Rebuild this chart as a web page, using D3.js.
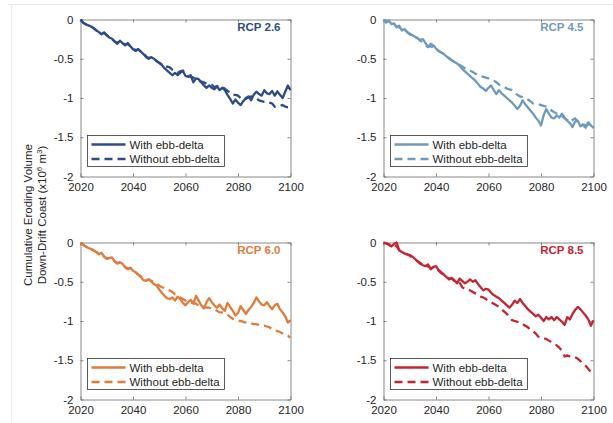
<!DOCTYPE html>
<html>
<head>
<meta charset="utf-8">
<script src="https://cdn.jsdelivr.net/npm/d3@7"></script>
<style>
  body { margin: 0; background: #fff; }
  svg { display: block; font-family: "Liberation Sans", Arial, sans-serif; }
</style>
</head>
<body>
<svg id="chart" width="613" height="423"></svg>
<script>
// years on the x axis (one value per year)
var years = d3.range(2020, 2101);

// cumulative eroding volume (x10^6 m^3)
var rcp26With = [0, -0.04, -0.06, -0.075, -0.09, -0.11, -0.135, -0.16, -0.19, -0.165,
    -0.2, -0.23, -0.245, -0.28, -0.31, -0.27, -0.3, -0.33, -0.3, -0.34,
    -0.38, -0.4, -0.38, -0.41, -0.44, -0.48, -0.5, -0.48, -0.5, -0.53,
    -0.555, -0.58, -0.62, -0.65, -0.68, -0.71, -0.68, -0.71, -0.68, -0.655,
    -0.72, -0.73, -0.71, -0.8, -0.75, -0.76, -0.8, -0.84, -0.87, -0.84,
    -0.87, -0.89, -0.85, -0.9, -0.87, -0.9, -0.96, -1.01, -1.07, -1.02,
    -1.06, -1.09, -1.04, -1.0, -0.98, -1.03, -0.96, -0.92, -0.95, -0.97,
    -0.9, -0.94, -0.95, -0.91, -0.97, -0.915, -0.96, -1.0, -0.92, -0.84,
    -0.9];
var rcp26Without = [0, -0.04, -0.06, -0.08, -0.09, -0.11, -0.14, -0.16, -0.18, -0.17,
    -0.2, -0.22, -0.25, -0.28, -0.3, -0.28, -0.3, -0.32, -0.31, -0.34,
    -0.37, -0.39, -0.38, -0.41, -0.43, -0.47, -0.49, -0.48, -0.5, -0.53,
    -0.55, -0.57, -0.6, -0.6, -0.61, -0.64, -0.66, -0.68, -0.66, -0.65,
    -0.69, -0.72, -0.73, -0.74, -0.76, -0.78, -0.79, -0.8, -0.82, -0.82,
    -0.83, -0.86, -0.85, -0.85, -0.86, -0.88, -0.91, -0.93, -0.96, -0.96,
    -0.97, -1.0, -1.0, -1.01, -0.99, -0.98, -0.99, -1.0, -1.03, -1.04,
    -1.05, -1.05, -1.06, -1.07, -1.11, -1.1, -1.1, -1.09, -1.11, -1.12,
    -1.12];

var rcp45With = [0, -0.04, -0.01, -0.06, -0.05, -0.1, -0.08, -0.14, -0.12, -0.16,
    -0.19, -0.2, -0.22, -0.24, -0.26, -0.25, -0.3, -0.35, -0.31, -0.33,
    -0.37, -0.4, -0.42, -0.44, -0.47, -0.5, -0.52, -0.54, -0.56, -0.59,
    -0.63, -0.66, -0.69, -0.72, -0.75, -0.78, -0.82, -0.86, -0.88, -0.91,
    -0.87, -0.84, -0.9, -0.95, -0.9, -0.94, -0.97, -1.0, -1.03, -1.06,
    -1.1, -1.14, -1.1, -1.03, -1.08, -1.12, -1.16, -1.2, -1.25, -1.29,
    -1.35, -1.22, -1.14, -1.2, -1.25, -1.26, -1.22, -1.25, -1.2, -1.25,
    -1.29, -1.32, -1.37, -1.3, -1.29, -1.36, -1.34, -1.38, -1.31, -1.35,
    -1.38];
var rcp45Without = [0, -0.03, -0.02, -0.06, -0.06, -0.09, -0.1, -0.13, -0.13, -0.16,
    -0.18, -0.2, -0.22, -0.24, -0.27, -0.29, -0.33, -0.35, -0.34, -0.36,
    -0.38, -0.4, -0.42, -0.44, -0.47, -0.49, -0.52, -0.54, -0.56, -0.58,
    -0.6, -0.62, -0.63, -0.65, -0.67, -0.69, -0.71, -0.72, -0.73, -0.74,
    -0.75, -0.77, -0.78, -0.8, -0.83, -0.85, -0.86, -0.88, -0.89, -0.9,
    -0.93, -0.96, -0.98, -0.99, -1.0, -1.02, -1.04, -1.07, -1.08, -1.08,
    -1.09, -1.1, -1.11, -1.13, -1.16, -1.18, -1.2, -1.21, -1.23, -1.26,
    -1.28, -1.31, -1.28, -1.26, -1.3, -1.33, -1.34, -1.35, -1.34, -1.33,
    -1.38];

var rcp60With = [0, -0.03, -0.05, -0.07, -0.08, -0.1, -0.12, -0.15, -0.13, -0.18,
    -0.21, -0.2, -0.19, -0.24, -0.27, -0.25, -0.27, -0.32, -0.34, -0.32,
    -0.36, -0.38, -0.41, -0.44, -0.48, -0.49, -0.47, -0.5, -0.53, -0.55,
    -0.6, -0.64, -0.68, -0.71, -0.72, -0.7, -0.74, -0.69, -0.72, -0.77,
    -0.8, -0.76, -0.73, -0.78, -0.68, -0.74, -0.8, -0.84, -0.76, -0.71,
    -0.76, -0.8, -0.83, -0.79, -0.84, -0.87, -0.77, -0.82, -0.87, -0.93,
    -0.9, -0.81, -0.86, -0.91, -0.86, -0.82, -0.77, -0.7, -0.75, -0.79,
    -0.8, -0.76, -0.81, -0.85, -0.8, -0.78, -0.85, -0.89, -0.94, -1.02,
    -0.99];
var rcp60Without = [0, -0.03, -0.05, -0.07, -0.09, -0.1, -0.12, -0.14, -0.14, -0.18,
    -0.2, -0.2, -0.2, -0.24, -0.26, -0.26, -0.28, -0.31, -0.33, -0.33,
    -0.36, -0.38, -0.41, -0.43, -0.46, -0.48, -0.47, -0.49, -0.5, -0.52,
    -0.55, -0.57, -0.58, -0.59, -0.61, -0.63, -0.66, -0.68, -0.7, -0.72,
    -0.74, -0.75, -0.77, -0.77, -0.78, -0.8, -0.81, -0.82, -0.83, -0.83,
    -0.84, -0.85, -0.87, -0.89, -0.89, -0.9, -0.92, -0.95, -0.97, -0.98,
    -1.0, -1.0, -1.01, -1.02, -1.03, -1.03, -1.04, -1.04, -1.05, -1.06,
    -1.06, -1.07, -1.08, -1.1, -1.12, -1.13, -1.14, -1.16, -1.18, -1.19,
    -1.21];

var rcp85With = [0, -0.01, -0.02, -0.05, -0.02, 0, -0.1, -0.12, -0.14, -0.15,
    -0.16, -0.18, -0.21, -0.24, -0.26, -0.29, -0.3, -0.28, -0.34, -0.31,
    -0.3, -0.35, -0.38, -0.41, -0.44, -0.47, -0.45, -0.48, -0.52, -0.46,
    -0.49, -0.52, -0.5, -0.47, -0.5, -0.48, -0.53, -0.57, -0.61, -0.59,
    -0.6, -0.64, -0.67, -0.69, -0.71, -0.74, -0.77, -0.8, -0.83, -0.79,
    -0.74, -0.77, -0.72, -0.77, -0.81, -0.85, -0.88, -0.91, -0.94, -0.92,
    -0.96, -1.0, -0.95, -0.98, -0.95, -0.99, -0.95, -0.98, -1.01, -1.05,
    -0.95, -0.98, -0.91, -0.86, -0.82, -0.85, -0.89, -0.93, -0.98, -1.06,
    -0.99];
var rcp85Without = [0, -0.01, -0.03, -0.05, -0.03, -0.05, -0.1, -0.13, -0.14, -0.15,
    -0.17, -0.19, -0.21, -0.24, -0.27, -0.29, -0.31, -0.3, -0.33, -0.32,
    -0.33, -0.36, -0.39, -0.41, -0.43, -0.46, -0.46, -0.49, -0.51, -0.51,
    -0.57, -0.59, -0.6, -0.61, -0.63, -0.65, -0.67, -0.69, -0.7, -0.72,
    -0.74, -0.76, -0.78, -0.8, -0.82, -0.85, -0.88, -0.91, -0.95, -0.99,
    -1.0, -1.01, -1.03, -1.04, -1.06, -1.08, -1.11, -1.13, -1.16, -1.2,
    -1.21, -1.22, -1.23, -1.25, -1.27, -1.29, -1.31, -1.34, -1.38, -1.45,
    -1.44, -1.45, -1.45, -1.46, -1.48, -1.51, -1.54, -1.57, -1.61, -1.65,
    -1.69];

// tick labels
var xTicks = [2020, 2040, 2060, 2080, 2100];
var yTicks = [0, -0.5, -1, -1.5, -2];
var legendLabels = ["With ebb-delta", "Without ebb-delta"];

// the four panels
var panels = [
    {name: "RCP 2.6", color: "#2d4b8e", withDelta: rcp26With, withoutDelta: rcp26Without, left: 80.5, top: 19.5},
    {name: "RCP 4.5", color: "#6f9abf", withDelta: rcp45With, withoutDelta: rcp45Without, left: 383.5, top: 19.5},
    {name: "RCP 6.0", color: "#e27b3b", withDelta: rcp60With, withoutDelta: rcp60Without, left: 80.5, top: 242.5},
    {name: "RCP 8.5", color: "#c72331", withDelta: rcp85With, withoutDelta: rcp85Without, left: 383.5, top: 242.5}
];

var svg = d3.select("#chart");
var plotWidth = 210,
    plotHeight = 157,
    axisColor = "#262626",
    lineWidth = 2.3,
    dash = "8,5";

// faint screenshot border lines
svg.append("line").attr("x1", 8).attr("x2", 613).attr("y1", 4.5).attr("y2", 4.5)
    .attr("stroke", "#e4e4e4").attr("stroke-width", 1);
svg.append("line").attr("x1", 11.5).attr("x2", 11.5).attr("y1", 4).attr("y2", 423)
    .attr("stroke", "#ececec").attr("stroke-width", 1);

var xScale = d3.scaleLinear().domain([2020, 2100]).range([0, plotWidth]);
var yScale = d3.scaleLinear().domain([-2, 0]).range([plotHeight, 0]);

var line = d3.line()
    .x(function (d) { return xScale(d.year); })
    .y(function (d) { return yScale(d.value); });

panels.forEach(function (p) {
    var g = svg.append("g").attr("transform", "translate(" + p.left + "," + p.top + ")");

    // axes with inward ticks on all four sides (box)
    var fmt = function (d) { return String(d); };
    var bottom = g.append("g").attr("transform", "translate(0," + plotHeight + ")")
        .call(d3.axisBottom(xScale).tickValues(xTicks).tickFormat(fmt)
            .tickSizeInner(-3).tickSizeOuter(0).tickPadding(6));
    var left = g.append("g")
        .call(d3.axisLeft(yScale).tickValues(yTicks).tickFormat(fmt)
            .tickSizeInner(-3).tickSizeOuter(0).tickPadding(7));
    var top = g.append("g")
        .call(d3.axisTop(xScale).tickValues(xTicks).tickFormat("")
            .tickSizeInner(-3).tickSizeOuter(0));
    var right = g.append("g").attr("transform", "translate(" + plotWidth + ",0)")
        .call(d3.axisRight(yScale).tickValues(yTicks).tickFormat("")
            .tickSizeInner(-3).tickSizeOuter(0));

    [bottom, left, top, right].forEach(function (a) {
        a.selectAll("path, line").attr("stroke", "#6a6a6a").attr("stroke-width", 0.8);
        a.selectAll("text").attr("fill", axisColor).style("font-size", "11.5px")
            .style("font-family", "'Liberation Sans', Arial, sans-serif");
    });

    var seriesWith = years.map(function (y, i) { return {year: y, value: p.withDelta[i]}; });
    var seriesWithout = years.map(function (y, i) { return {year: y, value: p.withoutDelta[i]}; });

    g.append("path").datum(seriesWithout)
        .attr("d", line).attr("fill", "none")
        .attr("stroke", p.color).attr("stroke-width", lineWidth)
        .attr("stroke-dasharray", dash);
    g.append("path").datum(seriesWith)
        .attr("d", line).attr("fill", "none")
        .attr("stroke", p.color).attr("stroke-width", lineWidth)
        .attr("stroke-linejoin", "round");

    // scenario label
    g.append("text")
        .attr("x", plotWidth - 10).attr("y", 11)
        .attr("text-anchor", "end")
        .attr("fill", p.color)
        .style("font-size", "11.5px").style("font-weight", "bold")
        .text(p.name);

    // legend
    var lg = g.append("g").attr("transform", "translate(7,116)");
    lg.append("rect").attr("width", 137).attr("height", 31)
        .attr("fill", "#fff").attr("stroke", "#333").attr("stroke-width", 0.8);
    legendLabels.forEach(function (label, i) {
        var yy = 9 + i * 14.5;
        lg.append("line").attr("x1", 4).attr("x2", 38).attr("y1", yy).attr("y2", yy)
            .attr("stroke", p.color).attr("stroke-width", lineWidth)
            .attr("stroke-dasharray", i === 1 ? dash : null);
        lg.append("text").attr("x", 42).attr("y", yy + 4)
            .attr("fill", axisColor).style("font-size", "11.5px")
            .text(label);
    });
});

// shared y axis label
var yLabel = svg.append("text")
    .attr("transform", "translate(32,215) rotate(-90)")
    .attr("text-anchor", "middle")
    .attr("fill", axisColor)
    .style("font-size", "11.5px");
yLabel.append("tspan").attr("x", 0).attr("dy", 0).text("Cumulative Eroding Volume");
var l2 = yLabel.append("tspan").attr("x", 0).attr("dy", 14).text("Down-Drift Coast (x10");
l2.append("tspan").attr("dy", -4).style("font-size", "8px").text("6");
yLabel.append("tspan").attr("dy", 4).text(" m");
yLabel.append("tspan").attr("dy", -4).style("font-size", "8px").text("3");
yLabel.append("tspan").attr("dy", 4).text(")");
</script>
</body>
</html>
